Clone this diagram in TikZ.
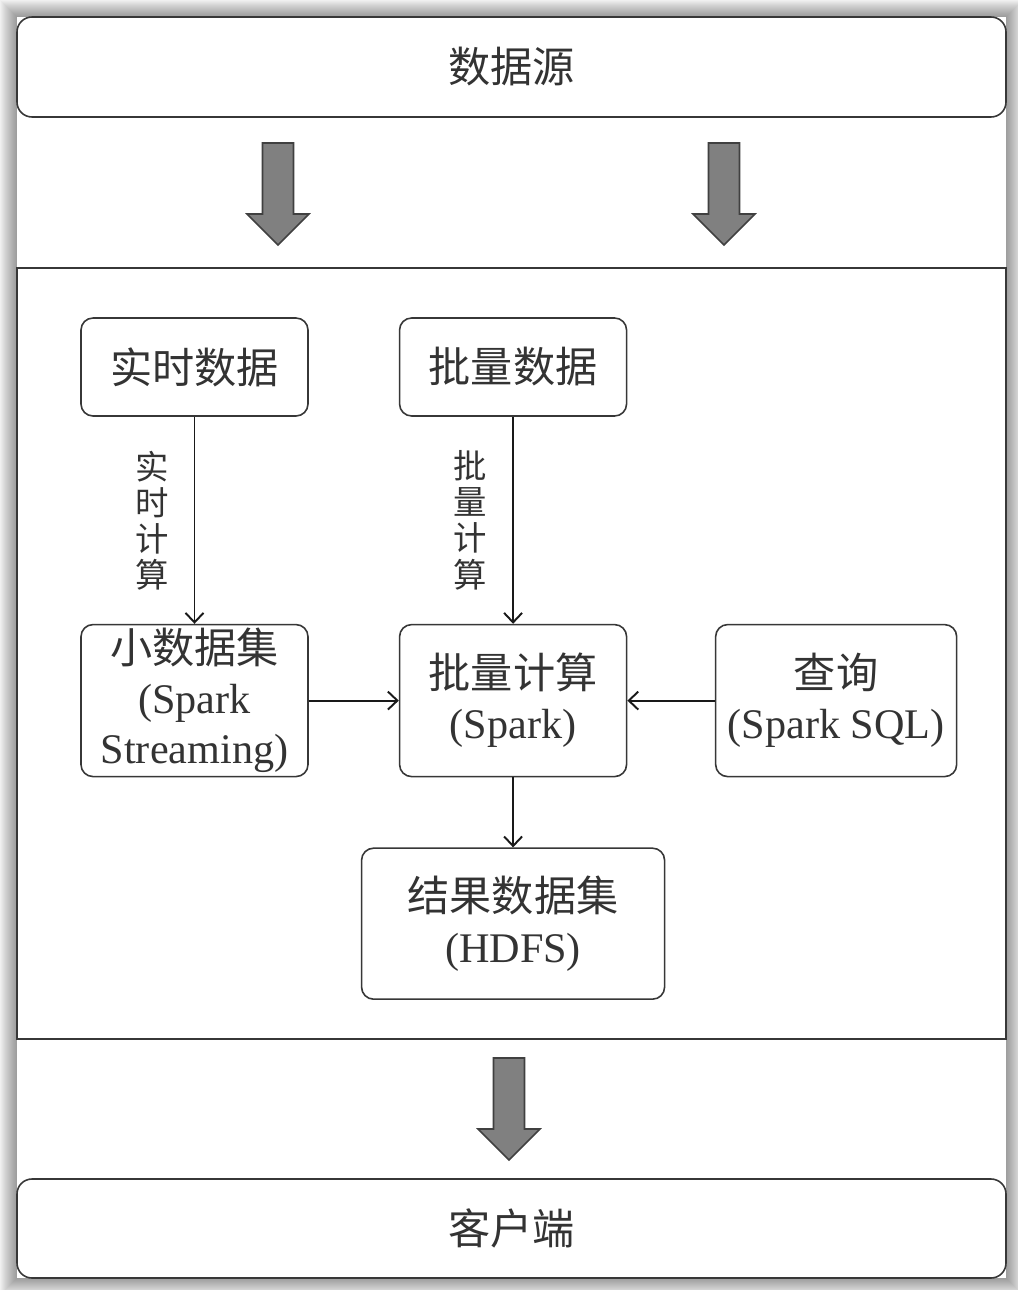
\documentclass[tikz,border=0pt]{standalone}
\usepackage{fontspec}
\setmainfont{Liberation Serif}
\newfontfamily\cjk{Noto Sans CJK SC}
\usetikzlibrary{positioning, calc, arrows.meta}
\definecolor{arrowgray}{RGB}{128,128,128}
\definecolor{linegray}{RGB}{55,55,55}
\newcommand{\zh}[1]{{\cjk #1}}

\begin{document}
\begin{tikzpicture}[
  outerbox/.style={rectangle, draw=linegray, line width=0.9pt, rounded corners=0.3cm, minimum width=19.78cm, minimum height=2cm, font=\fontsize{24}{30}\selectfont, text=black!80},
  box/.style={rectangle, draw=linegray, line width=0.9pt, rounded corners=0.24cm, minimum width=4.54cm, minimum height=1.96cm, inner sep=0pt, align=center, font=\fontsize{24}{28.5}\selectfont, text=black!80},
  tallbox/.style={box, minimum height=3.04cm},
  vlabel/.style={align=center, inner sep=0pt, font=\cjk\fontsize{19}{20.5}\selectfont, text=black!80},
  link/.style={-{Straight Barb[length=1.9mm, width=3.6mm]}, line width=1.1pt, draw=black!90},
  bigarrow/.pic={
    \draw[fill=arrowgray, draw=black!75, line width=0.9pt] (-0.31,0) -- (0.31,0) -- (0.31,-1.42) -- (0.62,-1.42) -- (0,-2.04) -- (-0.62,-1.42) -- (-0.31,-1.42) -- cycle;
  }
]
  \useasboundingbox (0,0) rectangle (20.36,-25.8);

  % Shadow and page
  \fill[gray!12] (0,0) rectangle (20.36,-25.8);
  \foreach \s in {1,...,16}
    \fill[black, opacity=0.022] ({0.34-\s*0.02},{-0.34+\s*0.02}) rectangle ({20.12+\s*0.02},{-25.56-\s*0.02});
  \fill[white] (0.34,-0.34) rectangle (20.12,-25.56);

  % Source and client
  \node[outerbox] (source) at (10.23,-1.34) {\zh{数据源}};
  \node[outerbox, minimum height=1.98cm] (client) at (10.23,-24.57) {\zh{客户端}};

  % Processing frame
  \node[rectangle, draw=linegray, line width=1.1pt, minimum width=19.78cm, minimum height=15.42cm] (frame) at (10.23,-13.07) {};

  % Big arrows
  \pic at (5.56,-2.86) {bigarrow};
  \pic at (14.48,-2.86) {bigarrow};
  \pic at (10.18,-21.16) {bigarrow};

  % Data
  \node[box] (realtime) at (3.89,-7.34) {\zh{实时数据}};
  \node[box, right=1.8cm of realtime] (batch) {\zh{批量数据}};

  % Computation
  \node[tallbox, below=4.14cm of realtime] (small) {\zh{小数据集}\\(Spark\\Streaming)};
  \node[tallbox, below=4.14cm of batch] (compute) {\zh{批量计算}\\(Spark)};
  \node[tallbox, right=1.75cm of compute, minimum width=4.82cm] (query) {\zh{查询}\\(Spark SQL)};
  \node[tallbox, below=1.4cm of compute, minimum width=6.06cm, minimum height=3.02cm] (result) {\zh{结果数据集}\\(HDFS)};

  % Connectors
  \draw[link] (realtime) -- node[vlabel, left=0.5cm] (rtlabel) {实\\时\\计\\算} (small);
  \draw[link] (batch) -- node[vlabel, left=0.5cm] (batchlabel) {批\\量\\计\\算} (compute);
  \draw[link] (small) -- (compute);
  \draw[link] (query) -- (compute);
  \draw[link] (compute) -- (result);
\end{tikzpicture}
\end{document}
